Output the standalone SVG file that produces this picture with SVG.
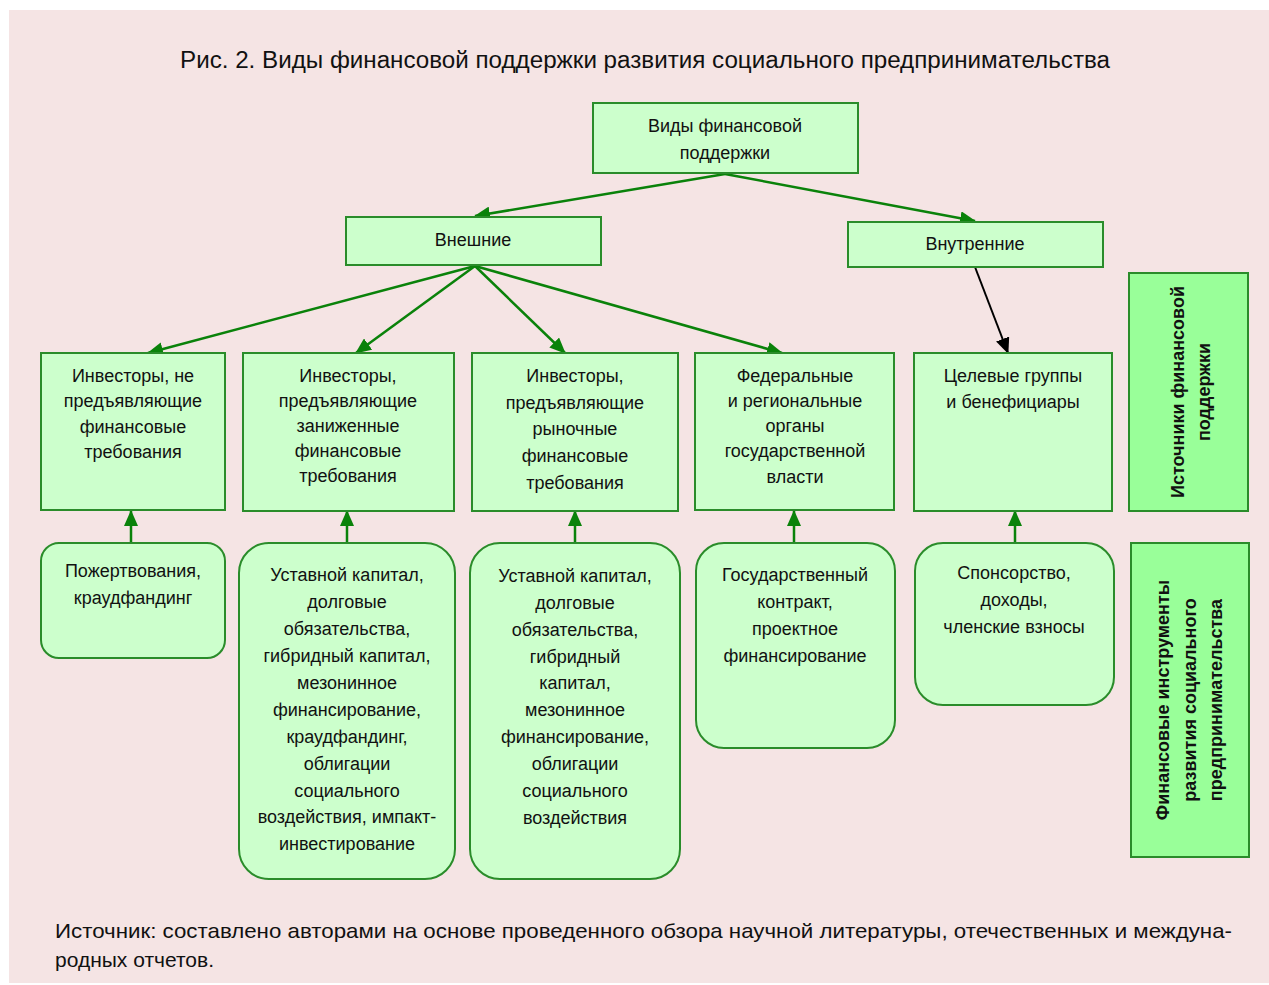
<svg xmlns="http://www.w3.org/2000/svg" width="1269" height="985" viewBox="0 0 1269 985">
<style>
.bg{fill:#f5e4e4}
.box{fill:#ccffcc;stroke:#2a8c2a;stroke-width:2}
.lab{fill:#99ff99;stroke:#2a8c2a;stroke-width:2}
.t{font-family:"Liberation Sans",Arial,sans-serif;font-size:18px;fill:#111;text-anchor:middle}
.tb{font-family:"Liberation Sans",Arial,sans-serif;font-size:18px;font-weight:bold;fill:#111;text-anchor:middle}
.title{font-family:"Liberation Sans",Arial,sans-serif;font-size:23px;fill:#111;text-anchor:middle}
.foot{font-family:"Liberation Sans",Arial,sans-serif;font-size:21px;fill:#111}
.g{stroke:#0a820a;stroke-width:2.5;fill:none}
.k{stroke:#000;stroke-width:2;fill:none}
</style>
<defs>
<marker id="ag" markerUnits="userSpaceOnUse" markerWidth="16" markerHeight="14" refX="15" refY="7" orient="auto"><path d="M0,0 L16,7 L0,14 Z" fill="#0a820a"/></marker>
<marker id="ak" markerUnits="userSpaceOnUse" markerWidth="16" markerHeight="14" refX="15" refY="7" orient="auto"><path d="M0,0 L16,7 L0,14 Z" fill="#000"/></marker>
</defs>
<rect class="bg" x="9" y="10" width="1260" height="973"/>
<text class="title" x="645" y="68" textLength="930" lengthAdjust="spacingAndGlyphs">Рис. 2. Виды финансовой поддержки развития социального предпринимательства</text>

<g id="connectors">
<line class="g" x1="725" y1="174" x2="475" y2="216" marker-end="url(#ag)"/>
<line class="g" x1="725" y1="174" x2="975" y2="221" marker-end="url(#ag)"/>
<line class="g" x1="475" y1="266" x2="148" y2="353" marker-end="url(#ag)"/>
<line class="g" x1="475" y1="266" x2="356" y2="353" marker-end="url(#ag)"/>
<line class="g" x1="475" y1="266" x2="565" y2="353" marker-end="url(#ag)"/>
<line class="g" x1="475" y1="266" x2="782" y2="353" marker-end="url(#ag)"/>
<line class="k" x1="975" y1="267" x2="1008" y2="353" marker-end="url(#ak)"/>
<line class="g" x1="131" y1="543" x2="131" y2="511" marker-end="url(#ag)"/>
<line class="g" x1="347" y1="543" x2="347" y2="511" marker-end="url(#ag)"/>
<line class="g" x1="575" y1="543" x2="575" y2="511" marker-end="url(#ag)"/>
<line class="g" x1="794" y1="543" x2="794" y2="511" marker-end="url(#ag)"/>
<line class="g" x1="1015" y1="543" x2="1015" y2="511" marker-end="url(#ag)"/>
</g>

<g id="root"><rect class="box" x="593" y="103" width="265" height="70"/>
<text class="t"><tspan x="725" y="132">Виды финансовой</tspan><tspan x="725" y="159">поддержки</tspan></text></g>
<g id="ext"><rect class="box" x="346" y="217" width="255" height="48"/>
<text class="t" x="473" y="246">Внешние</text></g>
<g id="int"><rect class="box" x="848" y="222" width="255" height="45"/>
<text class="t" x="975" y="250">Внутренние</text></g>

<g id="s1"><rect class="box" x="41" y="353" width="184" height="157"/>
<text class="t"><tspan x="133" y="382">Инвесторы, не</tspan><tspan x="133" y="407">предъявляющие</tspan><tspan x="133" y="433">финансовые</tspan><tspan x="133" y="458">требования</tspan></text></g>
<g id="s2"><rect class="box" x="243" y="353" width="211" height="158"/>
<text class="t"><tspan x="348" y="382">Инвесторы,</tspan><tspan x="348" y="407">предъявляющие</tspan><tspan x="348" y="432">заниженные</tspan><tspan x="348" y="457">финансовые</tspan><tspan x="348" y="482">требования</tspan></text></g>
<g id="s3"><rect class="box" x="472" y="353" width="206" height="158"/>
<text class="t"><tspan x="575" y="382">Инвесторы,</tspan><tspan x="575" y="409">предъявляющие</tspan><tspan x="575" y="435">рыночные</tspan><tspan x="575" y="462">финансовые</tspan><tspan x="575" y="489">требования</tspan></text></g>
<g id="s4"><rect class="box" x="695" y="353" width="199" height="157"/>
<text class="t"><tspan x="795" y="382">Федеральные</tspan><tspan x="795" y="407">и региональные</tspan><tspan x="795" y="432">органы</tspan><tspan x="795" y="457">государственной</tspan><tspan x="795" y="483">власти</tspan></text></g>
<g id="s5"><rect class="box" x="914" y="353" width="198" height="158"/>
<text class="t"><tspan x="1013" y="382">Целевые группы</tspan><tspan x="1013" y="408">и бенефициары</tspan></text></g>

<g id="i1"><rect class="box" x="41" y="543" width="184" height="115" rx="18"/>
<text class="t"><tspan x="133" y="577">Пожертвования,</tspan><tspan x="133" y="604">краудфандинг</tspan></text></g>
<g id="i2"><rect class="box" x="239" y="543" width="216" height="336" rx="30"/>
<text class="t"><tspan x="347" y="581">Уставной капитал,</tspan><tspan x="347" y="608">долговые</tspan><tspan x="347" y="635">обязательства,</tspan><tspan x="347" y="662">гибридный капитал,</tspan><tspan x="347" y="689">мезонинное</tspan><tspan x="347" y="716">финансирование,</tspan><tspan x="347" y="743">краудфандинг,</tspan><tspan x="347" y="770">облигации</tspan><tspan x="347" y="797">социального</tspan><tspan x="347" y="823">воздействия, импакт-</tspan><tspan x="347" y="850">инвестирование</tspan></text></g>
<g id="i3"><rect class="box" x="470" y="543" width="210" height="336" rx="30"/>
<text class="t"><tspan x="575" y="582">Уставной капитал,</tspan><tspan x="575" y="609">долговые</tspan><tspan x="575" y="636">обязательства,</tspan><tspan x="575" y="663">гибридный</tspan><tspan x="575" y="689">капитал,</tspan><tspan x="575" y="716">мезонинное</tspan><tspan x="575" y="743">финансирование,</tspan><tspan x="575" y="770">облигации</tspan><tspan x="575" y="797">социального</tspan><tspan x="575" y="824">воздействия</tspan></text></g>
<g id="i4"><rect class="box" x="696" y="543" width="199" height="205" rx="28"/>
<text class="t"><tspan x="795" y="581">Государственный</tspan><tspan x="795" y="608">контракт,</tspan><tspan x="795" y="635">проектное</tspan><tspan x="795" y="662">финансирование</tspan></text></g>
<g id="i5"><rect class="box" x="915" y="543" width="199" height="162" rx="28"/>
<text class="t"><tspan x="1014" y="579">Спонсорство,</tspan><tspan x="1014" y="606">доходы,</tspan><tspan x="1014" y="633">членские взносы</tspan></text></g>

<g id="labA"><rect class="lab" x="1129" y="273" width="119" height="238"/>
<text class="tb" transform="translate(1189,392) rotate(-90)"><tspan x="0" y="-5">Источники финансовой</tspan><tspan x="0" y="21">поддержки</tspan></text></g>
<g id="labB"><rect class="lab" x="1131" y="543" width="118" height="314"/>
<text class="tb" transform="translate(1190,700) rotate(-90)"><tspan x="0" y="-21">Финансовые инструменты</tspan><tspan x="0" y="6">развития социального</tspan><tspan x="0" y="32">предпринимательства</tspan></text></g>

<text class="foot" x="55" y="938" textLength="1177" lengthAdjust="spacingAndGlyphs">Источник: составлено авторами на основе проведенного обзора научной литературы, отечественных и междуна-</text>
<text class="foot" x="55" y="967">родных отчетов.</text>
</svg>
